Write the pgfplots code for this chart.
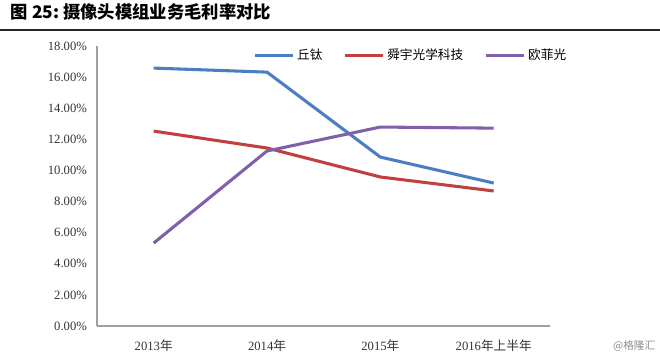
\documentclass[border=0pt]{standalone}
\usepackage{pgfplots}
\pgfplotsset{compat=1.18}
\usepackage{fontspec}
\setmainfont{Liberation Serif}
\newfontfamily\cjk{Noto Sans CJK SC}
\definecolor{cblue}{RGB}{74,126,193}
\definecolor{cred}{RGB}{192,64,64}
\definecolor{cpurple}{RGB}{128,96,168}
\definecolor{axgray}{RGB}{160,160,160}
\begin{document}
\begin{tikzpicture}[x=0.75pt,y=0.75pt]
\path[use as bounding box] (0,0) rectangle (660,-356);
\node[anchor=west,font=\cjk\bfseries\fontsize{13}{13}\selectfont] at (6,-12) {图 25:\ 摄像头模组业务毛利率对比};
\draw[line width=1.5pt,black!85] (0,-30) -- (660,-30);
\node[anchor=east,text=black!45,font=\cjk\fontsize{8}{8}\selectfont] at (660,-346) {@格隆汇};
\begin{axis}[
  at={(72.75pt,-244.5pt)}, anchor=south west,
  scale only axis, width=340pt, height=210pt,
  xmin=-0.5, xmax=3.5, ymin=0, ymax=18,
  axis lines*=left,
  axis line style={axgray, line width=1.2pt, -},
  xtick={0,1,2,3},
  xticklabels={2013{\cjk 年},2014{\cjk 年},2015{\cjk 年},2016{\cjk 年上半年}},
  ytick={0,2,...,18},
  yticklabels={0.00\%,2.00\%,4.00\%,6.00\%,8.00\%,10.00\%,12.00\%,14.00\%,16.00\%,18.00\%},
  major tick length=0pt,
  tick label style={font=\fontsize{9.5}{9.5}\selectfont, text=black!80},
  xticklabel style={yshift=-7pt},
  yticklabel style={xshift=-4pt},
  legend style={at={(0.336,1.01)}, anchor=north west, draw=none, fill=none,
    legend columns=3, font=\cjk\fontsize{9.5}{9.5}\selectfont,
    /tikz/every even column/.append style={column sep=14pt}},
  legend image code/.code={\draw[#1,line width=2.2pt] (0cm,0cm) -- (1.0cm,0cm);},
  every axis plot/.append style={line width=2.3pt},
]
\addplot[cblue] coordinates {(0,16.58) (1,16.32) (2,10.86) (3,9.19)};
\addlegendentry{丘钛}
\addplot[cred] coordinates {(0,12.53) (1,11.44) (2,9.58) (3,8.68)};
\addlegendentry{舜宇光学科技}
\addplot[cpurple] coordinates {(0,5.33) (1,11.25) (2,12.79) (3,12.72)};
\addlegendentry{欧菲光}
\end{axis}
\end{tikzpicture}
\end{document}
